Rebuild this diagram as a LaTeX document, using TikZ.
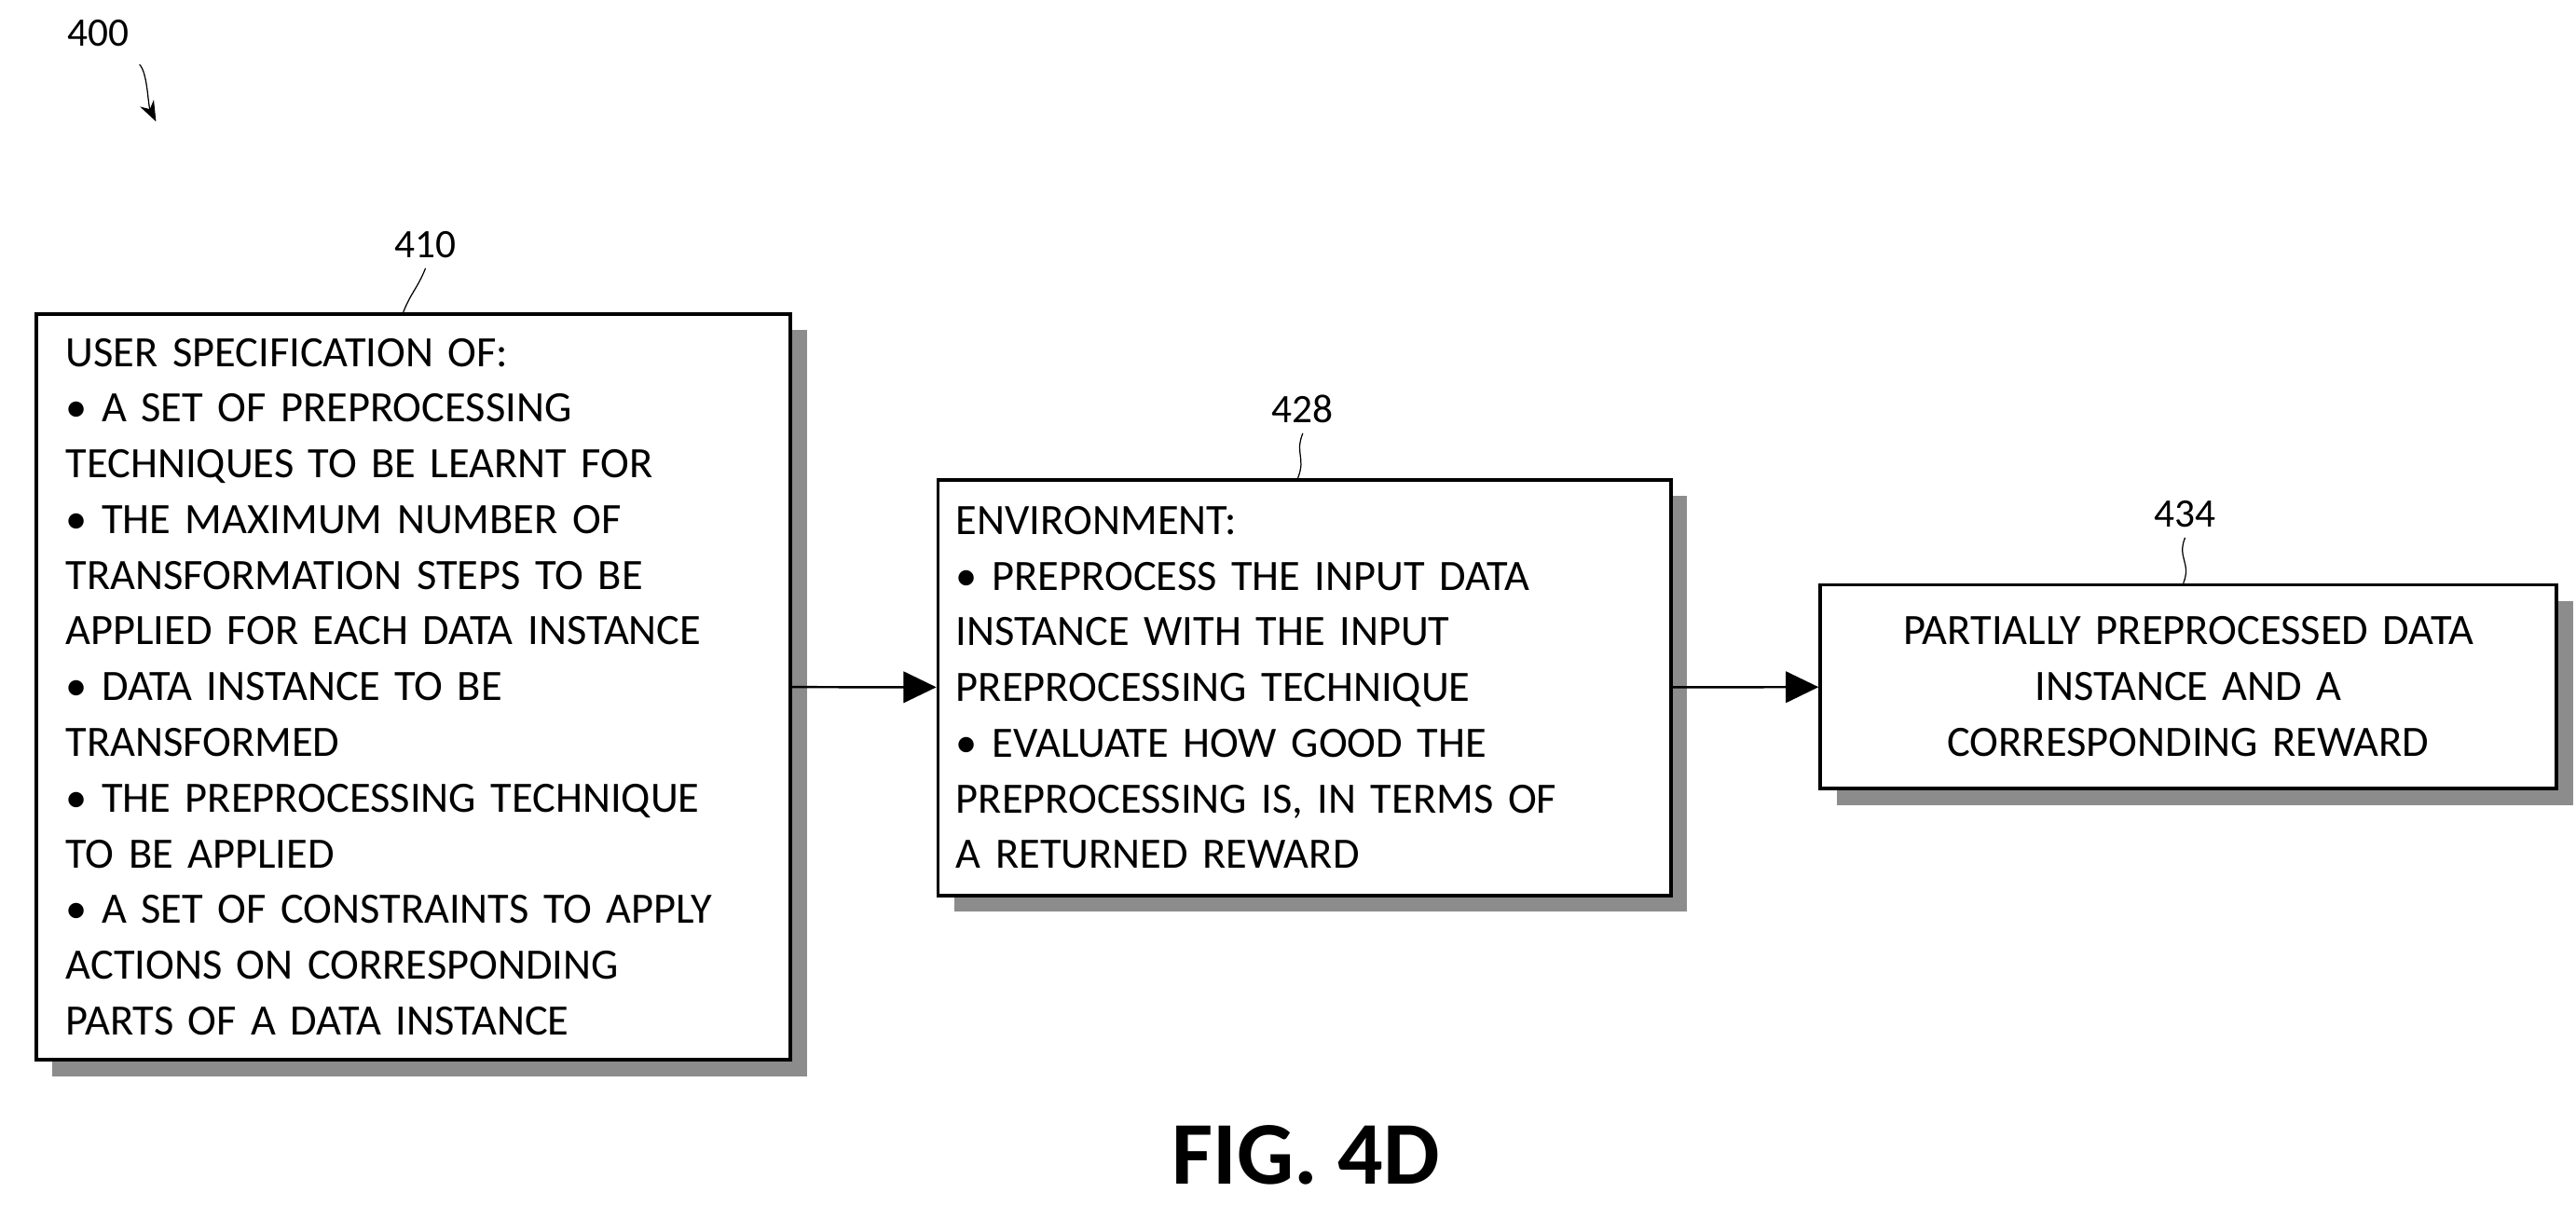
\documentclass[tikz,border=0pt]{standalone}
\usepackage{fontspec}
\setmainfont{Carlito}
\usetikzlibrary{arrows.meta,shadows,positioning,calc}

\begin{document}
\begin{tikzpicture}[
  box/.style={draw, very thick, fill=white, inner xsep=0.22cm,
    font=\fontsize{15}{19.3}\selectfont,
    drop shadow={shadow xshift=0.2cm, shadow yshift=-0.2cm, fill=black!45, opacity=1}},
  num/.style={font=\fontsize{14}{16}\selectfont},
  lead/.style={thin},
  flow/.style={thick, -{Triangle[length=0.4cm, width=0.38cm]}}
]
\useasboundingbox (0,0) rectangle (31.36,14.68);

% Kasten 410
\node[box, minimum width=9.18cm, minimum height=9.08cm, inner xsep=0.36cm,
  text width=8.46cm, align=left] (spec) at (5.03,6.32)
  {USER SPECIFICATION OF:\\
   • A SET OF PREPROCESSING\\
   TECHNIQUES TO BE LEARNT FOR\\
   • THE MAXIMUM NUMBER OF\\
   TRANSFORMATION STEPS TO BE\\
   APPLIED FOR EACH DATA INSTANCE\\
   • DATA INSTANCE TO BE\\
   TRANSFORMED\\
   • THE PREPROCESSING TECHNIQUE\\
   TO BE APPLIED\\
   • A SET OF CONSTRAINTS TO APPLY\\
   ACTIONS ON CORRESPONDING\\
   PARTS OF A DATA INSTANCE};

% Kasten 428
\node[box, minimum width=8.92cm, minimum height=5.06cm,
  text width=8.48cm, align=left] (env) at (15.88,6.31)
  {ENVIRONMENT:\\
   • PREPROCESS THE INPUT DATA\\
   INSTANCE WITH THE INPUT\\
   PREPROCESSING TECHNIQUE\\
   • EVALUATE HOW GOOD THE\\
   PREPROCESSING IS, IN TERMS OF\\
   A RETURNED REWARD};

% Kasten 434
\node[box, minimum width=8.96cm, minimum height=2.48cm,
  text width=8.5cm, align=center] (out) at (26.64,6.32)
  {PARTIALLY PREPROCESSED DATA\\
   INSTANCE AND A\\
   CORRESPONDING REWARD};

% Pfeile
\draw[flow] (spec) -- (env);
\draw[flow] (env) -- (out);

% Bezugszeichen
\node[num] (n410) at (5.18,11.70) {410};
\node[num] (n428) at (15.86,9.70) {428};
\node[num] (n434) at (26.6,8.42) {434};
\node[num] (n400) at (1.2,14.28) {400};

\draw[lead] (n410.south) .. controls +(-0.1,-0.25) and +(0.1,0.25) .. ($(spec.north)+(-0.12,0)$);
\draw[lead] (n428.south) .. controls +(-0.1,-0.25) and +(0.1,0.25) .. ($(env.north)+(-0.08,0)$);
\draw[lead] (n434.south) .. controls +(-0.1,-0.25) and +(0.1,0.25) .. ($(out.north)+(-0.06,0)$);

\coordinate (tip400) at (1.9,13.2);
\draw[thin, -{Stealth[length=0.25cm]}] ($(n400.south east)+(0,-0.1)$) .. controls +(0.1,-0.1) and +(-0.1,0.2) .. (tip400);

% Figurenbezeichnung
\node[font=\fontsize{31}{34}\selectfont\bfseries] (fig) at (15.9,0.62) {FIG. 4D};
\end{tikzpicture}
\end{document}
